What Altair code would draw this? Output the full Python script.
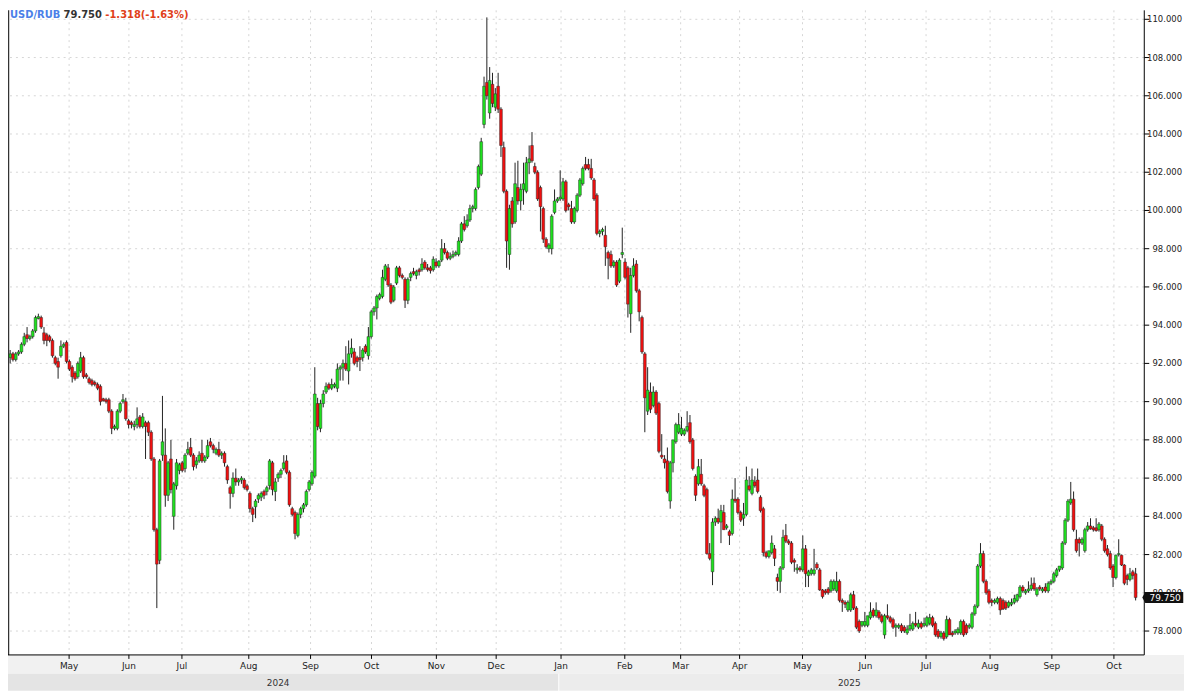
import altair as alt
import pandas as pd

# ---------------- data ----------------
symbol = "USD/RUB"
change_abs = -1.318
change_pct = -1.63

opens = [
    92.3, 92.5, 92.2, 92.5, 92.6, 93.0, 93.5, 93.3, 93.4, 93.7,
    94.35, 94.4, 93.6, 93.5, 93.4, 93.2, 92.3, 92.1, 92.4, 92.9,
    93.1, 92.1, 91.8, 91.5, 91.3, 91.6, 92.3, 91.4, 91.2, 91.1,
    91.0, 90.9, 90.8, 90.15, 90.1, 90.1, 89.5, 88.6, 88.6, 89.5,
    90.0, 90.0, 89.0, 88.9, 88.7, 88.8, 89.2, 88.7, 88.9, 88.9,
    88.4, 87.0, 83.3, 81.7, 87.2, 87.2, 85.1, 87.0, 84.0, 85.6,
    86.4, 86.8, 86.5, 87.3, 87.6, 87.2, 86.7, 86.9, 87.3, 86.9,
    87.1, 87.9, 87.7, 87.3, 87.5, 87.2, 87.3, 86.6, 85.5, 85.2,
    86.0, 85.8, 85.9, 85.9, 85.6, 85.2, 84.4, 84.5, 84.9, 85.0,
    85.3, 85.3, 85.6, 86.8, 85.3, 86.0, 86.2, 86.5, 86.9, 86.3,
    84.4, 84.2, 83.0, 84.1, 84.4, 84.6, 85.4, 85.7, 86.1, 89.9,
    88.6, 89.9, 90.5, 90.9, 90.7, 90.8, 90.7, 91.7, 91.8, 92.0,
    91.6, 92.5, 92.6, 92.3, 92.3, 92.3, 92.9, 92.4, 93.4, 94.7,
    94.9, 95.4, 95.5, 96.4, 97.0, 96.1, 95.3, 96.2, 97.0, 96.6,
    96.4, 95.3, 96.5, 96.8, 96.6, 96.9, 96.9, 97.3, 97.0, 97.0,
    96.9, 97.3, 97.1, 97.4, 98.0, 97.8, 97.5, 97.6, 97.7, 97.7,
    98.4, 99.3, 99.2, 99.5, 100.1, 100.1, 101.2, 101.9, 104.5, 106.7,
    105.1, 106.6, 105.4, 106.5, 105.3, 103.3, 101.0, 97.7, 100.5, 99.4,
    101.2, 100.5, 101.1, 101.0, 102.5, 103.4, 102.3, 102.0, 101.2, 100.1,
    98.5, 98.0, 98.0, 99.9, 100.5, 100.6, 100.6, 101.5, 100.3, 100.1,
    99.4, 100.0, 100.8, 101.4, 102.4, 102.4, 102.2, 101.6, 100.8, 98.8,
    98.9, 98.7, 97.8, 97.7, 97.1, 97.3, 96.3, 97.7, 97.3, 97.0,
    94.6, 96.6, 97.2, 95.8, 94.4, 92.5, 89.5, 90.5, 89.8, 90.5,
    89.9, 87.2, 87.0, 86.9, 84.8, 86.8, 87.9, 88.4, 88.3, 88.3,
    88.5, 88.9, 88.0, 86.1, 85.7, 86.2, 85.6, 85.4, 82.05, 81.1,
    83.7, 83.9, 83.7, 84.2, 83.4, 83.2, 83.1, 84.9, 84.9, 84.2,
    83.9, 84.1, 85.6, 85.2, 85.8, 85.9, 85.0, 84.4, 82.1, 81.9,
    82.1, 82.3, 80.8, 80.6, 81.3, 83.0, 82.7, 82.6, 81.7, 81.2,
    81.3, 81.2, 82.3, 80.9, 81.0, 81.0, 81.5, 81.2, 80.15, 80.1,
    80.2, 80.1, 80.2, 80.1, 80.6, 79.6, 79.5, 79.1, 79.1, 79.9,
    79.2, 78.5, 78.3, 78.3, 78.3, 78.7, 79.1, 78.8, 79.0, 78.8,
    77.8, 78.8, 78.7, 78.6, 78.2, 78.2, 78.3, 78.2, 77.9, 78.1,
    78.1, 78.4, 78.2, 78.4, 78.3, 78.3, 78.4, 78.7, 78.4, 78.0,
    77.7, 77.9, 77.7, 78.6, 77.9, 77.9, 77.9, 77.9, 78.5, 78.3,
    78.2, 78.2, 78.9, 79.3, 81.4, 82.05, 80.6, 80.1, 79.6, 79.5,
    79.5, 79.7, 79.6, 79.5, 79.3, 79.4, 79.5, 79.6, 79.8, 80.3,
    80.0, 80.1, 80.2, 80.5, 79.9, 80.3, 80.1, 80.3, 80.1, 80.5,
    80.6, 80.9, 81.2, 81.3, 82.6, 83.8, 84.7, 84.9, 82.8, 82.8,
    82.6, 82.2, 83.3, 83.5, 83.4, 83.4, 83.3, 83.5, 82.8, 82.3,
    82.05, 81.4, 80.8, 82.0, 81.97, 81.45, 80.9, 80.7, 81.1, 81.0,
]

highs = [
    92.7, 92.6, 92.6, 92.7, 93.1, 93.6, 93.9, 93.5, 93.8, 94.5,
    94.6, 94.5, 93.9, 93.6, 93.5, 93.3, 92.4, 92.3, 93.2, 93.1,
    93.2, 92.2, 91.9, 91.6, 92.1, 92.6, 92.4, 91.5, 91.3, 91.2,
    91.1, 91.0, 90.9, 90.2, 90.2, 90.2, 89.6, 88.8, 89.6, 90.0,
    90.4, 90.2, 89.1, 89.0, 89.0, 89.7, 89.3, 89.4, 89.0, 89.0,
    88.5, 87.1, 83.4, 87.0, 90.3, 88.6, 86.9, 88.0, 85.8, 87.0,
    86.8, 86.9, 87.3, 87.9, 88.1, 87.3, 87.1, 87.4, 88.0, 87.2,
    88.0, 88.1, 87.8, 87.6, 87.9, 87.4, 87.4, 86.7, 85.6, 86.3,
    86.5, 86.0, 86.1, 86.0, 85.7, 85.3, 84.5, 84.9, 85.2, 85.3,
    85.4, 85.6, 87.0, 86.9, 86.0, 86.3, 86.5, 87.2, 87.2, 86.4,
    84.5, 84.3, 84.2, 84.5, 84.7, 85.4, 85.9, 86.4, 91.8, 90.2,
    90.1, 90.6, 91.0, 91.0, 91.2, 91.0, 92.0, 91.9, 92.2, 92.9,
    93.2, 93.3, 92.8, 92.4, 92.9, 92.8, 93.0, 93.9, 94.8, 95.0,
    95.6, 95.7, 96.9, 97.2, 97.2, 96.2, 96.1, 97.1, 97.1, 96.7,
    96.5, 96.5, 96.8, 97.0, 96.9, 97.0, 97.5, 97.4, 97.2, 97.1,
    97.6, 97.5, 97.4, 98.5, 98.3, 97.9, 97.8, 97.9, 97.9, 98.6,
    99.4, 99.7, 99.8, 100.3, 100.3, 101.2, 102.4, 103.8, 107.0, 110.1,
    107.5, 107.2, 106.4, 107.2, 105.4, 103.6, 101.1, 100.3, 100.7, 102.5,
    102.6, 101.4, 102.5, 102.8, 103.4, 104.1, 102.5, 102.1, 101.3, 100.2,
    98.6, 98.3, 99.8, 101.1, 100.7, 102.1, 101.7, 101.6, 100.4, 100.5,
    100.2, 100.9, 101.7, 102.3, 102.8, 102.7, 102.7, 101.7, 100.9, 99.0,
    99.1, 99.2, 97.9, 97.9, 97.4, 97.4, 97.5, 99.1, 97.5, 97.1,
    97.0, 97.5, 97.4, 95.9, 94.5, 92.6, 91.8, 91.0, 90.8, 90.6,
    90.0, 88.3, 87.2, 87.6, 86.9, 88.0, 88.9, 89.4, 89.2, 88.6,
    89.5, 89.3, 88.1, 86.2, 87.0, 87.0, 85.7, 85.5, 82.6, 83.9,
    84.0, 84.4, 84.6, 84.6, 83.6, 83.3, 85.4, 86.0, 85.0, 84.3,
    84.7, 86.6, 86.1, 86.5, 86.1, 86.5, 85.1, 84.5, 82.2, 82.2,
    83.0, 82.5, 81.0, 81.4, 83.3, 83.6, 82.8, 82.7, 81.8, 81.5,
    81.4, 83.0, 82.5, 81.2, 81.3, 82.3, 81.6, 81.3, 80.2, 80.2,
    80.3, 80.7, 80.7, 81.1, 80.7, 79.7, 79.6, 79.6, 80.0, 80.1,
    79.3, 78.6, 78.5, 79.0, 78.8, 79.5, 79.2, 79.5, 79.1, 78.9,
    78.9, 79.4, 78.8, 78.7, 78.4, 78.4, 78.4, 78.3, 78.3, 78.9,
    78.5, 79.0, 78.6, 78.5, 78.7, 78.8, 78.9, 78.8, 78.5, 78.1,
    78.0, 78.0, 78.8, 78.7, 78.0, 78.1, 78.2, 78.6, 78.6, 78.4,
    78.4, 79.0, 79.4, 81.5, 82.6, 82.2, 80.7, 80.2, 79.7, 79.7,
    79.8, 79.8, 79.7, 79.6, 79.6, 79.7, 79.9, 79.95, 80.4, 80.4,
    80.2, 80.6, 80.8, 80.8, 80.3, 80.4, 80.3, 80.5, 80.6, 80.7,
    81.1, 81.3, 81.4, 82.7, 83.9, 84.9, 85.8, 85.3, 83.3, 82.9,
    82.9, 83.4, 83.7, 83.9, 83.5, 83.9, 83.7, 83.6, 82.9, 82.5,
    82.2, 81.5, 82.0, 82.8, 82.0, 81.5, 81.0, 81.3, 81.2, 81.3,
]

lows = [
    92.0, 92.1, 92.1, 92.4, 92.5, 92.9, 93.1, 93.2, 93.3, 93.6,
    94.3, 93.8, 93.0, 92.9, 93.1, 92.3, 91.9, 91.2, 92.3, 92.8,
    92.0, 91.6, 91.0, 91.1, 91.2, 91.5, 91.2, 91.2, 90.9, 90.8,
    90.8, 90.6, 89.8, 90.0, 89.9, 89.4, 88.3, 88.5, 88.5, 89.4,
    89.9, 89.0, 88.6, 88.6, 88.5, 88.6, 88.6, 88.6, 87.0, 88.2,
    86.9, 83.2, 79.2, 81.5, 86.9, 84.5, 84.8, 85.2, 83.3, 85.4,
    86.2, 86.3, 86.3, 87.2, 87.1, 86.4, 86.5, 86.8, 86.8, 86.8,
    87.0, 87.6, 87.3, 87.2, 87.1, 87.0, 86.6, 85.7, 84.4, 85.0,
    85.6, 85.6, 85.7, 85.4, 85.3, 84.2, 83.7, 83.9, 84.7, 84.8,
    84.9, 85.1, 85.4, 85.1, 84.8, 85.8, 86.0, 86.4, 86.2, 84.5,
    84.0, 82.8, 82.9, 83.9, 84.2, 84.5, 85.3, 85.6, 86.0, 88.5,
    88.4, 89.7, 90.4, 90.6, 90.6, 90.7, 90.5, 91.1, 91.1, 91.6,
    90.9, 92.3, 91.9, 91.8, 91.6, 92.1, 92.5, 92.2, 93.3, 94.5,
    94.3, 95.3, 95.4, 96.3, 96.0, 95.1, 95.2, 96.1, 96.5, 96.4,
    94.9, 95.1, 96.3, 96.6, 96.4, 96.6, 96.8, 96.9, 96.8, 96.7,
    96.8, 97.0, 97.0, 97.3, 97.7, 97.4, 97.4, 97.5, 97.6, 97.6,
    98.3, 98.9, 99.1, 99.4, 99.9, 100.0, 101.1, 101.8, 104.3, 105.8,
    104.8, 105.4, 105.2, 105.1, 102.8, 100.9, 97.0, 96.9, 99.1, 99.3,
    100.3, 100.0, 100.3, 100.9, 101.9, 102.5, 101.9, 100.5, 98.9, 98.3,
    98.0, 97.8, 97.7, 99.8, 100.4, 100.5, 100.5, 99.9, 100.0, 99.3,
    99.3, 99.9, 100.7, 101.3, 102.1, 102.1, 101.6, 100.5, 98.7, 98.6,
    98.7, 97.1, 96.4, 97.0, 97.0, 96.0, 96.2, 97.5, 96.4, 94.4,
    93.6, 96.5, 95.7, 94.2, 92.5, 88.4, 89.3, 89.4, 89.7, 89.3,
    87.3, 87.0, 86.5, 85.2, 84.4, 86.3, 87.8, 88.3, 88.2, 88.2,
    88.4, 87.8, 86.4, 84.8, 85.6, 85.6, 85.0, 82.0, 81.7, 80.4,
    83.5, 83.6, 82.6, 83.3, 83.3, 82.5, 83.0, 84.7, 84.1, 83.7,
    83.5, 84.0, 85.3, 85.1, 85.5, 85.2, 84.2, 81.9, 81.8, 81.8,
    82.0, 81.4, 80.1, 80.0, 81.2, 82.6, 82.5, 81.5, 81.1, 81.0,
    81.1, 81.1, 80.3, 80.3, 80.9, 80.9, 81.2, 80.1, 79.7, 79.9,
    79.9, 80.0, 80.1, 80.0, 79.5, 79.0, 79.2, 79.0, 79.0, 79.1,
    78.1, 77.9, 78.2, 78.2, 78.2, 78.6, 78.7, 78.7, 78.6, 78.4,
    77.6, 78.6, 78.4, 78.1, 77.7, 78.1, 77.9, 77.9, 77.8, 78.0,
    78.0, 78.2, 78.1, 78.1, 78.2, 78.2, 78.3, 78.2, 77.7, 77.6,
    77.6, 77.5, 77.6, 77.8, 77.7, 77.8, 77.8, 77.8, 77.7, 77.8,
    78.1, 78.1, 78.8, 79.2, 81.3, 80.5, 79.9, 79.4, 79.3, 79.4,
    79.4, 78.85, 79.1, 79.1, 79.2, 79.3, 79.4, 79.5, 79.7, 80.0,
    79.9, 80.0, 80.1, 80.1, 79.8, 80.1, 80.0, 80.0, 80.0, 80.4,
    80.5, 80.8, 81.1, 81.2, 82.5, 83.7, 84.6, 83.2, 82.1, 81.9,
    82.5, 82.1, 83.2, 83.3, 83.2, 83.2, 83.2, 82.7, 82.1, 81.9,
    81.2, 80.3, 80.7, 81.9, 81.4, 80.4, 80.4, 80.6, 80.7, 79.6,
]

closes = [
    92.5, 92.2, 92.5, 92.6, 93.0, 93.4, 93.3, 93.4, 93.7, 94.4,
    94.45, 93.9, 93.2, 93.2, 93.2, 92.4, 92.0, 91.8, 92.9, 93.0,
    92.1, 91.7, 91.3, 91.2, 92.0, 92.3, 91.3, 91.3, 91.0, 90.9,
    90.9, 90.7, 90.0, 90.05, 90.0, 89.5, 88.6, 88.7, 89.5, 89.9,
    90.1, 89.1, 88.8, 88.8, 88.8, 89.1, 88.7, 89.2, 88.7, 88.4,
    87.0, 83.3, 81.5, 86.9, 87.9, 85.1, 86.8, 85.4, 85.7, 86.8,
    86.7, 86.4, 87.2, 87.5, 87.2, 86.6, 86.9, 87.2, 86.9, 87.1,
    87.7, 87.7, 87.5, 87.5, 87.2, 87.3, 86.8, 85.9, 85.2, 86.0,
    85.8, 85.9, 86.0, 85.5, 85.4, 84.4, 84.1, 84.8, 85.1, 85.2,
    85.1, 85.5, 86.9, 85.4, 85.8, 86.2, 86.4, 86.8, 86.3, 84.6,
    84.1, 83.1, 84.1, 84.4, 84.6, 85.3, 85.8, 86.3, 90.4, 88.7,
    89.9, 90.4, 90.8, 90.7, 90.9, 90.9, 91.7, 91.8, 92.0, 91.7,
    92.5, 92.8, 92.0, 92.1, 92.2, 92.7, 92.6, 93.4, 94.7, 94.9,
    95.5, 95.6, 96.5, 97.1, 96.1, 95.2, 96.0, 97.0, 96.6, 96.5,
    95.3, 96.4, 96.7, 96.7, 96.8, 96.8, 97.2, 97.0, 96.9, 96.85,
    97.45, 97.1, 97.35, 98.0, 97.8, 97.5, 97.6, 97.7, 97.8, 98.4,
    99.3, 99.0, 99.5, 100.1, 100.2, 101.1, 102.3, 103.6, 106.5, 106.0,
    106.8, 105.6, 106.1, 105.3, 103.4, 101.0, 98.4, 100.1, 99.3, 101.4,
    100.5, 101.1, 101.4, 102.5, 102.7, 102.6, 102.0, 100.6, 100.2, 98.5,
    98.1, 98.2, 99.7, 100.5, 100.6, 100.7, 101.5, 100.0, 100.2, 99.4,
    100.1, 100.8, 101.6, 102.2, 102.2, 102.2, 101.7, 100.6, 98.8, 98.9,
    99.0, 98.1, 97.5, 97.1, 97.3, 96.1, 97.4, 97.8, 96.5, 95.1,
    96.6, 97.1, 95.8, 94.7, 92.6, 90.2, 90.6, 89.6, 90.5, 89.4,
    87.4, 87.1, 86.8, 85.3, 86.8, 88.0, 88.8, 88.8, 88.6, 88.5,
    88.7, 87.9, 86.5, 85.1, 86.6, 85.7, 85.1, 82.05, 81.8, 83.7,
    83.9, 83.7, 84.3, 83.3, 83.5, 83.0, 84.9, 84.8, 84.2, 83.8,
    84.1, 85.9, 85.4, 85.9, 85.6, 85.3, 84.3, 82.1, 81.9, 82.2,
    82.6, 81.8, 80.6, 81.3, 82.9, 82.7, 82.6, 81.6, 81.6, 81.3,
    81.2, 82.3, 81.0, 81.1, 81.2, 81.2, 81.3, 80.15, 79.8, 80.0,
    80.0, 80.6, 80.6, 80.6, 79.6, 79.5, 79.4, 79.5, 79.9, 79.2,
    78.2, 78.0, 78.5, 78.5, 78.8, 79.0, 78.8, 79.1, 78.7, 78.5,
    78.8, 78.7, 78.5, 78.2, 78.3, 78.3, 78.0, 78.0, 78.1, 78.3,
    78.4, 78.3, 78.4, 78.2, 78.4, 78.7, 78.7, 78.3, 77.8, 77.7,
    77.9, 77.6, 78.6, 77.8, 77.8, 78.0, 78.1, 78.5, 77.8, 77.9,
    78.3, 78.9, 79.3, 81.4, 82.05, 80.6, 80.0, 79.5, 79.5, 79.6,
    79.7, 79.1, 79.15, 79.2, 79.5, 79.5, 79.7, 79.9, 80.3, 80.1,
    80.1, 80.2, 80.4, 80.2, 80.2, 80.2, 80.2, 80.1, 80.5, 80.6,
    81.0, 81.2, 81.4, 82.6, 83.8, 84.8, 84.9, 83.3, 82.2, 82.6,
    82.8, 83.3, 83.5, 83.35, 83.3, 83.25, 83.6, 82.8, 82.2, 82.0,
    81.3, 80.8, 81.97, 82.05, 81.45, 80.5, 80.7, 81.0, 80.9, 79.75,
]

# month ticks (position in candle index units) and labels
month_ticks = [20.9, 42.1, 60.9, 84.6, 106.5, 128.1, 151.1, 172.3, 195.3,
               217.9, 237.7, 258.6, 280.9, 303.2, 324.7, 347.4, 369.3, 391.3]
month_labels = ["May", "Jun", "Jul", "Aug", "Sep", "Oct", "Nov", "Dec", "Jan",
                "Feb", "Mar", "Apr", "May", "Jun", "Jul", "Aug", "Sep", "Oct"]
year_labels = ["2024", "2025"]
y_ticks = list(range(78, 112, 2))

assert len(opens) == len(highs) == len(lows) == len(closes)

# ---------------- frames ----------------
n = len(closes)
df = pd.DataFrame({"i": list(range(n)), "open": opens, "high": highs,
                   "low": lows, "close": closes})
df["dir"] = ["up" if c >= o else "down" for o, c in zip(opens, closes)]

last = closes[-1]
last_df = pd.DataFrame({"close": [last], "label": [f"{last:.3f}"]})
month_df = pd.DataFrame({"pos": month_ticks, "label": month_labels})
ytick_df = pd.DataFrame({"v": y_ticks, "label": [f"{v:.3f}" for v in y_ticks]})
one = pd.DataFrame({"a": [0]})

W, H = 1144, 649
FONT = "DejaVu Sans"
GRID = "#d6d6d6"

x_scale = alt.Scale(domain=[1.0, n + 0.3], nice=False, zero=False)
y_scale = alt.Scale(domain=[76.75, 110.47], nice=False, zero=False)
X = lambda f: alt.X(f, scale=x_scale, axis=None)
Y = lambda f: alt.Y(f, scale=y_scale, axis=None)

# bottom strips
strip = alt.Chart(one).mark_rect(color="#f1f1f1").encode(
    x=alt.value(0), x2=alt.value(1184), y=alt.value(649), y2=alt.value(668))
band24 = alt.Chart(one).mark_rect(color="#e4e4e4").encode(
    x=alt.value(0), x2=alt.value(554), y=alt.value(668), y2=alt.value(685))
band25 = alt.Chart(one).mark_rect(color="#ececec").encode(
    x=alt.value(555), x2=alt.value(1184), y=alt.value(668), y2=alt.value(685))
y24 = alt.Chart(one).mark_text(text=year_labels[0], font=FONT, fontSize=9,
                               color="#333", align="center", baseline="middle").encode(
    x=alt.value(272), y=alt.value(677))
y25 = alt.Chart(one).mark_text(text=year_labels[1], font=FONT, fontSize=9,
                               color="#333", align="center", baseline="middle").encode(
    x=alt.value(847), y=alt.value(677))

# grid
vgrid = alt.Chart(month_df).mark_rule(color=GRID, strokeDash=[2, 4]).encode(
    x=X("pos:Q"))
hgrid = alt.Chart(ytick_df).mark_rule(color=GRID, strokeDash=[2, 4]).encode(
    y=Y("v:Q"))

# candles
wicks = alt.Chart(df).mark_rule(color="#222", strokeWidth=1, clip=True).encode(
    x=X("i:Q"), y=Y("low:Q"), y2="high:Q")
bodies = alt.Chart(df).mark_bar(width=2.8, stroke="#222", strokeWidth=0.45,
                                clip=True).encode(
    x=X("i:Q"), y=Y("open:Q"), y2="close:Q",
    color=alt.Color("dir:N", scale=alt.Scale(domain=["up", "down"],
                                             range=["#1fe01f", "#f01010"]),
                    legend=None))

# hand-built axes
left_border = alt.Chart(one).mark_rule(color="#333", strokeWidth=1.5).encode(
    x=alt.value(0.5), y=alt.value(0), y2=alt.value(649))
right_dom = alt.Chart(one).mark_rule(color="#000").encode(
    x=alt.value(1144), y=alt.value(0), y2=alt.value(649))
bottom_dom = alt.Chart(one).mark_rule(color="#000").encode(
    x=alt.value(0), x2=alt.value(1144), y=alt.value(649))
yticks = alt.Chart(ytick_df).mark_rule(color="#000").encode(
    x=alt.value(1144), x2=alt.value(1149), y=Y("v:Q"))
ylabels = alt.Chart(ytick_df).mark_text(font=FONT, fontSize=8.5, color="#222",
                                        align="right", baseline="middle").encode(
    x=alt.value(1182), y=Y("v:Q"), text="label:N")
xticks = alt.Chart(month_df).mark_rule(color="#000").encode(
    x=X("pos:Q"), y=alt.value(649), y2=alt.value(653))
xlabels = alt.Chart(month_df).mark_text(font=FONT, fontSize=9, color="#222",
                                        align="center", baseline="middle").encode(
    x=X("pos:Q"), y=alt.value(660), text="label:N")

# header
t_sym = alt.Chart(one).mark_text(text=symbol, font=FONT, fontSize=10,
                                 fontWeight="bold", color="#4b7fe8",
                                 align="left", baseline="middle").encode(
    x=alt.value(2), y=alt.value(5))
t_last = alt.Chart(one).mark_text(text=f"{last:.3f}", font=FONT, fontSize=10,
                                  fontWeight="bold", color="#333",
                                  align="left", baseline="middle").encode(
    x=alt.value(56), y=alt.value(5))
t_chg = alt.Chart(one).mark_text(text=f"{change_abs:.3f}({change_pct:.2f}%)",
                                 font=FONT, fontSize=10, fontWeight="bold",
                                 color="#e0401a", align="left",
                                 baseline="middle").encode(
    x=alt.value(98), y=alt.value(5))

# last-price tag
tag_path = "M0,0L0.55,-1L7.5,-1L7.5,1L0.55,1Z"
tag = alt.Chart(last_df).mark_point(shape=tag_path, size=121, filled=True,
                                    color="#111", opacity=1).encode(
    x=alt.value(1142), y=Y("close:Q"))
tag_text = alt.Chart(last_df).mark_text(font=FONT, fontSize=9, color="white",
                                        align="center", baseline="middle").encode(
    x=alt.value(1165), y=Y("close:Q"), text="label:N")

chart = alt.layer(
    strip, band24, band25, y24, y25, vgrid, hgrid, wicks, bodies,
    left_border, right_dom, bottom_dom, yticks, ylabels, xticks, xlabels,
    t_sym, t_last, t_chg, tag, tag_text
).properties(
    width=W, height=H,
    padding={"left": 0, "top": 0, "right": 40, "bottom": 36},
    autosize=alt.AutoSizeParams(type="none"),
    background="white",
).configure_view(stroke=None)

chart.save("out.html", embed_options={"renderer": "svg", "actions": False})
